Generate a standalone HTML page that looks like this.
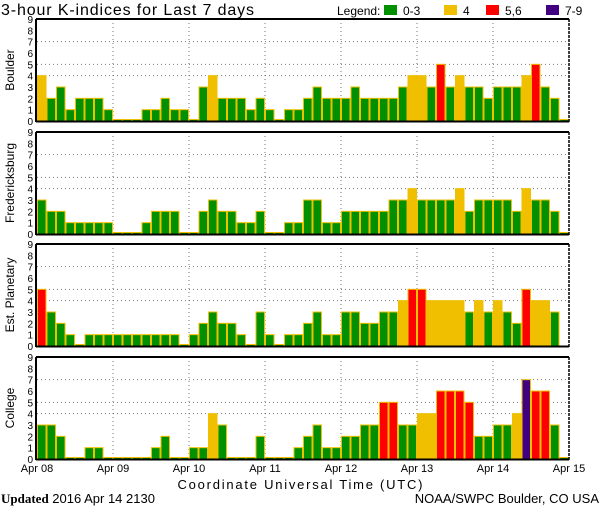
<!DOCTYPE html>
<html><head><meta charset="utf-8"><style>
html,body{margin:0;padding:0;background:#fff;}
svg{display:block;font-family:"Liberation Sans",sans-serif;}
</style></head><body>
<svg id="chart" width="600" height="510" viewBox="0 0 600 510" xmlns="http://www.w3.org/2000/svg">
<text x="1" y="15" font-size="16" textLength="253" lengthAdjust="spacing">3-hour K-indices for Last 7 days</text>
<g font-size="12">
<text x="337" y="15">Legend:</text>
<rect x="384" y="5" width="13" height="10" fill="#009000"/><text x="403" y="15">0-3</text>
<rect x="444" y="5" width="13" height="10" fill="#f0c000"/><text x="463" y="15">4</text>
<rect x="486" y="5" width="13" height="10" fill="#ff0000"/><text x="505" y="15">5,6</text>
<rect x="546" y="5" width="13" height="10" fill="#400080"/><text x="565" y="15">7-9</text>
</g>
<g id="panels"></g>
<text x="300" y="489" font-size="13" text-anchor="middle" textLength="245" lengthAdjust="spacing">Coordinate Universal Time (UTC)</text>
<text x="1" y="503" font-size="13"><tspan font-family="Liberation Serif,serif" font-weight="bold">Updated</tspan> 2016 Apr 14 2130</text>
<text x="599" y="503" font-size="13" text-anchor="end">NOAA/SWPC Boulder, CO USA</text>
</svg>
<script>
const stations = ["Boulder","Fredericksburg","Est. Planetary","College"];
const dayLabels = ["Apr 08","Apr 09","Apr 10","Apr 11","Apr 12","Apr 13","Apr 14","Apr 15"];
const boulder = [4,2,3,1,2,2,2,1, 0,0,0,1,1,2,1,1, 0,3,4,2,2,2,1,2, 1,0,1,1,2,3,2,2, 2,3,2,2,2,2,3,4, 4,3,5,3,4,3,3,2, 3,3,3,4,5,3,2,0];
const fredericksburg = [3,2,2,1,1,1,1,1, 0,0,0,1,2,2,2,0, 0,2,3,2,2,1,1,2, 0,0,1,1,3,3,1,1, 2,2,2,2,2,3,3,4, 3,3,3,3,4,2,3,3, 3,3,2,4,3,3,2,0];
const planetary = [5,3,2,1,0,1,1,1, 1,1,1,1,1,1,1,0, 1,2,3,2,2,1,0,3, 1,0,1,1,2,3,1,1, 3,3,2,2,3,3,4,5, 5,4,4,4,4,3,4,3, 4,3,2,5,4,4,3,null];
const college = [3,3,2,0,0,1,1,0, 0,0,0,0,1,2,0,0, 1,1,4,3,0,0,0,2, 0,0,0,1,2,3,1,1, 2,2,3,3,5,5,3,3, 4,4,6,6,6,5,2,2, 3,3,4,7,6,6,3,0];
const yTicks = [0,1,2,3,4,5,6,7,8,9];
const gridLevels = [4,5,7];

const series = [boulder,fredericksburg,planetary,college];
const NS="http://www.w3.org/2000/svg";
const X0=37, X1=569, NB=56, H=102;
const panelTops=[19,132,244,357];
const xScale = i => X0 + i*(X1-X0)/NB;
const dayX = d => X0 + d*(X1-X0)/7;
function col(v){return v<=3?"#009000":v==4?"#f0c000":v<=6?"#ff0000":"#400080";}
function mk(tag,attrs,parent){const e=document.createElementNS(NS,tag);for(const k in attrs)e.setAttribute(k,attrs[k]);parent.appendChild(e);return e;}
const root=document.getElementById("panels");
series.forEach((data,p)=>{
  const top=panelTops[p], base=top+H;
  const yScale = v => base - v*H/9;
  const g=mk("g",{},root);
  
  
  gridLevels.forEach(l=>{mk("line",{x1:X0,x2:X1,y1:yScale(l),y2:yScale(l),stroke:"#777","stroke-dasharray":"1,3"},g);});
  for(let d=1;d<7;d++){mk("line",{x1:dayX(d),x2:dayX(d),y1:top,y2:base,stroke:"#777","stroke-dasharray":"1,3"},g);}
  data.forEach((v,i)=>{
    if(v===null) return;
    const x=xScale(i), w=(X1-X0)/NB;
    const y=v===0?base-1.5:yScale(v);
    const r=mk("rect",{x:x+0.5,y:y,width:w-1,height:base-y,fill:col(v),stroke:"#f0c000","stroke-width":1},g);
    
    
  });
  mk("line",{x1:X0-1,x2:X1,y1:top,y2:top,stroke:"#000","stroke-width":2},g);
  mk("line",{x1:X0-1,x2:X1,y1:base+0.5,y2:base+0.5,stroke:"#000","stroke-width":2},g);
  mk("line",{x1:X0-1,x2:X0-1,y1:top,y2:base+1,stroke:"#000","stroke-width":2},g);
  mk("line",{x1:X1,x2:X1,y1:top,y2:base+1,stroke:"#000","stroke-width":1.5,"stroke-dasharray":"3,1"},g);
  yTicks.forEach(t=>{const tx=mk("text",{x:33,y:yScale(t)+4,"font-size":10,"text-anchor":"end"},g);tx.textContent=t;});
  const lab=mk("text",{x:0,y:0,"font-size":12,"text-anchor":"middle",transform:`translate(14,${top+H/2}) rotate(-90)`},g);
  lab.textContent=stations[p];
  
  
});
dayLabels.forEach((s,d)=>{
  const t=mk("text",{x:dayX(d),y:472,"font-size":11,"text-anchor":"middle"},root);
  t.textContent=s;
  
  
});
</script>
</body></html>
